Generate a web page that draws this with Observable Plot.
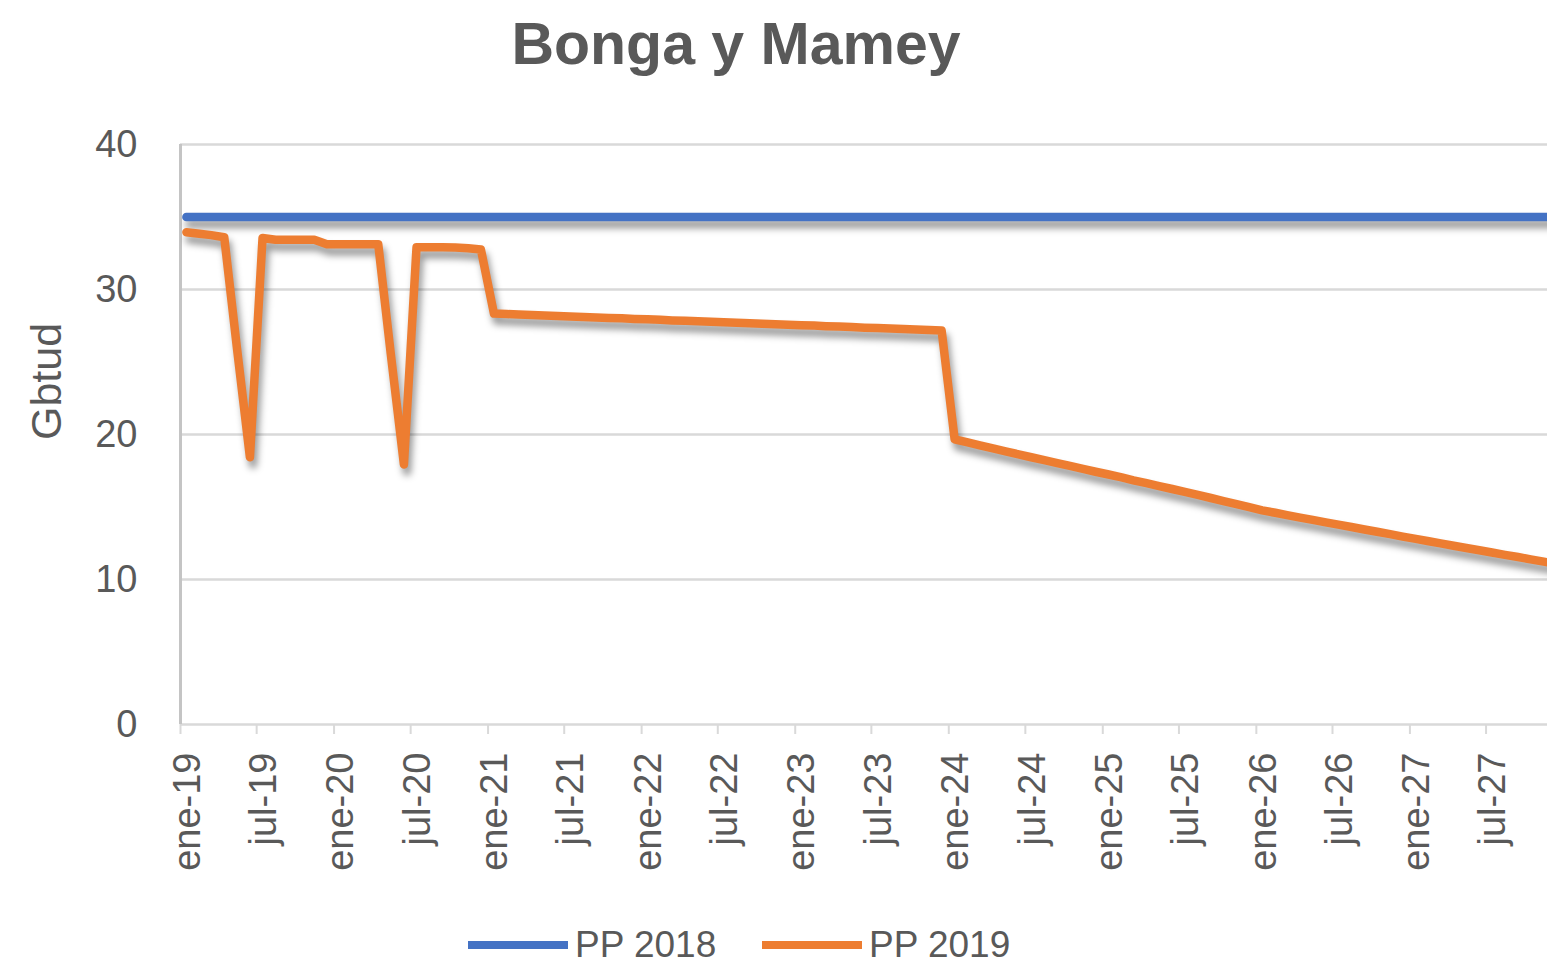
<!DOCTYPE html>
<html>
<head>
<meta charset="utf-8">
<script src="https://cdn.jsdelivr.net/npm/d3@7"></script>
<script src="https://cdn.jsdelivr.net/npm/@observablehq/plot@0.6"></script>
<style>
  html, body { margin: 0; padding: 0; background: #fff; }
  body { width: 1547px; height: 967px; overflow: hidden; position: relative;
         font-family: "Liberation Sans", Arial, sans-serif; color: #595959; }
  #title { position: absolute; left: 0; width: 1472px; top: 9px; text-align: center;
           font-weight: bold; font-size: 59px; line-height: 70px; }
  #chart { position: absolute; left: 0; top: 100px; }
  .item { position: absolute; top: 922px; display: flex; align-items: center; font-size: 37px; line-height: 46px; }
  .sw { width: 100px; height: 8px; margin-right: 7px; }
</style>
</head>
<body>
<div id="title">Bonga y Mamey</div>
<div id="chart"></div>
<div class="item" style="left:468px"><div class="sw" style="background:#4472C4"></div><span id="lg0"></span></div>
<div class="item" style="left:762px"><div class="sw" style="background:#ED7D31"></div><span id="lg1"></span></div>
<script>
// ---- data ----
const seriesNames = ["PP 2018", "PP 2019"];
const seriesColors = ["#4472C4", "#ED7D31"];
const firstMonth = "2019-01";          // first monthly value
const monthAbbr = ["ene", "jul"];      // tick label month names (Jan / Jul)
const yTicks = [0, 10, 20, 30, 40];
const yLabel = "Gbtud";

// PP 2018 (Gbtud), monthly Jan-2019 .. Dec-2027
const pp2018 = [
  35, 35, 35, 35, 35, 35, 35, 35, 35, 35, 35, 35,
  35, 35, 35, 35, 35, 35, 35, 35, 35, 35, 35, 35,
  35, 35, 35, 35, 35, 35, 35, 35, 35, 35, 35, 35,
  35, 35, 35, 35, 35, 35, 35, 35, 35, 35, 35, 35,
  35, 35, 35, 35, 35, 35, 35, 35, 35, 35, 35, 35,
  35, 35, 35, 35, 35, 35, 35, 35, 35, 35, 35, 35,
  35, 35, 35, 35, 35, 35, 35, 35, 35, 35, 35, 35,
  35, 35, 35, 35, 35, 35, 35, 35, 35, 35, 35, 35,
  35, 35, 35, 35, 35, 35, 35, 35, 35, 35, 35, 35
];
// PP 2019 (Gbtud), monthly Jan-2019 .. Dec-2027
const pp2019 = [
  33.95, 33.85, 33.75, 33.60, 26.00, 18.43, 33.55, 33.43, 33.43, 33.43, 33.43, 33.12,
  33.12, 33.12, 33.12, 33.12, 25.50, 17.93, 32.92, 32.92, 32.92, 32.90, 32.85, 32.76,
  28.34, 28.31, 28.27, 28.24, 28.21, 28.17, 28.14, 28.11, 28.07, 28.04, 28.01, 27.97,
  27.94, 27.91, 27.87, 27.84, 27.81, 27.77, 27.74, 27.71, 27.67, 27.64, 27.61, 27.57,
  27.54, 27.51, 27.47, 27.44, 27.41, 27.37, 27.34, 27.31, 27.27, 27.24, 27.21, 27.17,
  19.66, 19.45, 19.25, 19.04, 18.84, 18.63, 18.43, 18.23, 18.03, 17.83, 17.63, 17.43,
  17.24, 17.04, 16.84, 16.64, 16.44, 16.24, 16.04, 15.83, 15.62, 15.41, 15.20, 14.99,
  14.77, 14.60, 14.44, 14.27, 14.11, 13.94, 13.78, 13.62, 13.45, 13.29, 13.13, 12.96,
  12.80, 12.64, 12.49, 12.33, 12.17, 12.02, 11.86, 11.70, 11.55, 11.39, 11.23, 11.08
];

// ---- build table (values plotted mid-month) ----
const start = new Date(firstMonth + "-01T00:00:00Z");
const rows = [];
[pp2018, pp2019].forEach((vals, s) => {
  vals.forEach((v, i) => {
    const d = new Date(Date.UTC(start.getUTCFullYear(), start.getUTCMonth() + i, 15));
    rows.push({date: d, value: v, series: seriesNames[s]});
  });
});
const xStart = start;
const xEnd = new Date(Date.UTC(2027, 10, 24));
const tickDates = d3.utcMonth.every(6).range(xStart, xEnd);
const fmt = d => monthAbbr[d.getUTCMonth() === 0 ? 0 : 1] + "-" + String(d.getUTCFullYear()).slice(2);

document.getElementById("lg0").textContent = seriesNames[0];
document.getElementById("lg1").textContent = seriesNames[1];

const shadowOpts = {x: "date", y: "value", z: "series", stroke: "#000", strokeOpacity: 0.4,
  strokeWidth: 8.5, dx: 3, dy: 7, ariaDescription: "shadow", clip: true};

const chart = Plot.plot({
  width: 1547,
  height: 800,
  marginLeft: 180,
  marginRight: 0,
  marginTop: 44,
  marginBottom: 76 + 100,
  style: {fontFamily: '"Liberation Sans", Arial, sans-serif', color: "#595959", background: "transparent", overflow: "visible"},
  x: {type: "utc", domain: [xStart, xEnd]},
  y: {domain: [0, 40]},
  color: {domain: seriesNames, range: seriesColors},
  marks: [
    Plot.gridY(yTicks, {stroke: "#d9d9d9", strokeOpacity: 1, strokeWidth: 2.5}),
    Plot.ruleX([xStart], {stroke: "#c4c4c4", strokeWidth: 3}),
    Plot.axisY({ticks: yTicks, tickSize: 0, tickPadding: 43, fontSize: 38, fill: "#595959", label: null}),
    Plot.axisX({ticks: tickDates, tickSize: 10, tickFormat: () => "", stroke: "#d9d9d9", strokeWidth: 2, label: null}),
    Plot.axisX({ticks: tickDates, tickSize: 0, tickPadding: 28, tickRotate: -90, tickFormat: fmt,
      fontSize: 38, fill: "#595959", dx: 7, label: null}),
    Plot.text([yLabel], {frameAnchor: "left", textAnchor: "middle", rotate: -90, dx: -133, dy: -53, fontSize: 43, fill: "#595959"}),
    Plot.line(rows, shadowOpts),
    Plot.line(rows, {x: "date", y: "value", z: "series", stroke: "series", strokeWidth: 8.5, clip: true})
  ]
});

const svg = d3.select(chart);
svg.insert("defs", ":first-child").html(
  '<filter id="sh" filterUnits="userSpaceOnUse" x="0" y="0" width="1600" height="800"><feGaussianBlur stdDeviation="3.5"/></filter>');
svg.selectAll('g[aria-description="shadow"]').attr("filter", "url(#sh)");
document.getElementById("chart").appendChild(chart);
</script>
</body>
</html>
